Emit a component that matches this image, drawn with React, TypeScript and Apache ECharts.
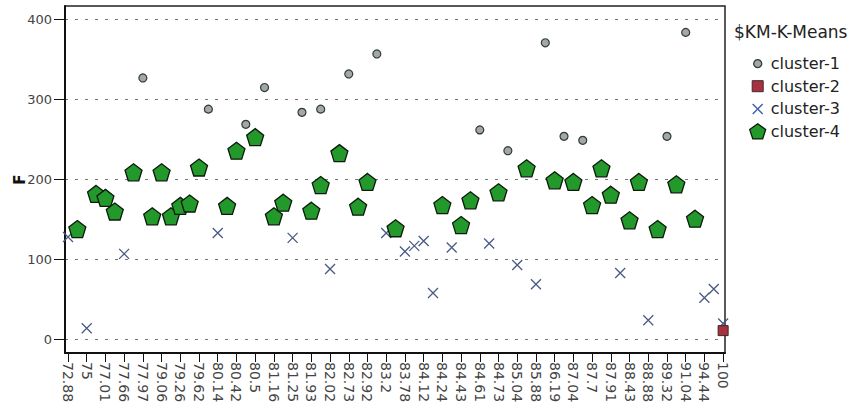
import React, { useEffect, useRef } from 'react';
import * as echarts from 'echarts';

// Tick labels of the categorical x axis (one label every other category slot)
const xLabels = ['72.88', '75', '77.01', '77.66', '77.97', '79.06', '79.26', '79.62', '80.14', '80.42', '80.5', '81.16', '81.25', '81.93', '82.02', '82.73', '82.92', '83.2', '83.78', '84.12', '84.24', '84.43', '84.61', '84.73', '85.04', '85.88', '86.19', '87.04', '87.7', '87.91', '88.43', '88.88', '89.32', '91.04', '94.44', '100'];

// Positions are in label-slot units (0 = first label, halves are unlabeled categories)
const cluster1X = [4, 7.5, 9.5, 10.5, 12.5, 13.5, 15, 16.5, 22, 23.5, 25.5, 26.5, 27.5, 32, 33];
const cluster1F = [327, 288, 269, 315, 284, 288, 332, 357, 262, 236, 371, 254, 249, 254, 384];

const cluster2X = [35];
const cluster2F = [11];

const cluster3X = [0, 1, 3, 8, 12, 14, 17, 18, 18.5, 19, 19.5, 20.5, 22.5, 24, 25, 29.5, 31, 34, 34.5, 35];
const cluster3F = [128, 14, 107, 133, 127, 88, 133, 110, 117, 123, 58, 115, 120, 93, 69, 83, 24, 52, 63, 20];

const cluster4X = [0.5, 1.5, 2, 2.5, 3.5, 4.5, 5, 5.5, 6, 6.5, 7, 8.5, 9, 10, 11, 11.5, 13, 13.5, 14.5, 15.5, 16, 17.5, 20, 21, 21.5, 23, 24.5, 26, 27, 28, 28.5, 29, 30, 30.5, 31.5, 32.5, 33.5];
const cluster4F = [138, 182, 177, 160, 209, 154, 209, 154, 167, 170, 215, 167, 236, 253, 154, 171, 161, 193, 233, 166, 197, 139, 168, 143, 174, 184, 214, 199, 197, 168, 214, 181, 149, 197, 138, 194, 151];

const yTicks = [0, 100, 200, 300, 400];

const FONT = 'DejaVu Sans';

const pentagon = 'path://M0,-1L0.951,-0.309L0.588,0.809L-0.588,0.809L-0.951,-0.309Z';
const cross = 'path://M0,0L10,10M10,0L0,10';
const legendCircle = 'path://M0,0M16,16M8,4A4,4,0,1,0,8.01,4Z';
const legendSquare = 'path://M0,0M16,16M2.5,2.5L13.5,2.5L13.5,13.5L2.5,13.5Z';
const legendCross = 'path://M0,0M16,16M3,3L13,13M13,3L3,13';

const zip = (xs: number[], ys: number[]) => xs.map((x, i) => [x, ys[i]]);

const c1Style = { color: '#a3a8a3', borderColor: '#2f3a3a', borderWidth: 1.2, opacity: 1 };
const c2Style = { color: '#a8303f', borderColor: '#3a2a2a', borderWidth: 1, opacity: 1 };
const c3Style = { color: 'rgba(0,0,0,0)', borderColor: '#4a5a84', borderWidth: 1.3, opacity: 1 };
const c4Style = { color: '#22992a', borderColor: '#0c1a0c', borderWidth: 1.3, opacity: 1 };

export default function App() {
  const ref = useRef<HTMLDivElement>(null);
  useEffect(() => {
    document.body.style.margin = '0';
    const chart = echarts.init(ref.current!, null, { renderer: 'svg' });
    const option: any = {
      animation: false,
      backgroundColor: '#ffffff',
      textStyle: { fontFamily: FONT },
      title: {
        text: '$KM-K-Means',
        left: 729,
        top: 18,
        textStyle: { fontSize: 17, fontWeight: 'normal', color: '#222', fontFamily: FONT },
      },
      legend: {
        orient: 'vertical',
        left: 744,
        top: 50,
        itemWidth: 16,
        itemHeight: 16,
        itemGap: 5.5,
        selectedMode: false,
        textStyle: { fontSize: 16, color: '#222', fontFamily: FONT },
        data: [
          { name: 'cluster-1', icon: legendCircle, itemStyle: c1Style },
          { name: 'cluster-2', icon: legendSquare, itemStyle: c2Style },
          { name: 'cluster-3', icon: legendCross, itemStyle: { ...c3Style, borderColor: '#3d5fb0', borderWidth: 1.4 } },
          { name: 'cluster-4', icon: pentagon, itemStyle: c4Style },
        ],
      },
      grid: {
        left: 65,
        right: 140,
        top: 6,
        bottom: 59,
        show: true,
        borderColor: '#222',
        borderWidth: 1.5,
        containLabel: false,
        outerBoundsMode: 'none',
      },
      xAxis: {
        type: 'value',
        min: -0.16,
        max: 35.1,
        minInterval: 1,
        maxInterval: 1,
        axisLine: { show: true, onZero: false, lineStyle: { color: '#111', width: 2 } },
        axisTick: {
          show: true,
          length: 9,
          lineStyle: { color: '#111', width: 1 },
          customValues: xLabels.map((_, i) => i),
        },
        axisLabel: {
          rotate: -90,
          margin: 9,
          fontSize: 14,
          color: '#444',
          fontFamily: FONT,
          customValues: xLabels.map((_, i) => i),
          formatter: (v: number) => (Number.isInteger(v) && xLabels[v] !== undefined ? xLabels[v] : ''),
        },
        splitLine: { show: false },
      },
      yAxis: {
        type: 'value',
        min: -17,
        max: 417,
        minInterval: 100,
        maxInterval: 100,
        name: 'F',
        nameLocation: 'middle',
        nameGap: 38,
        nameMoveOverlap: false,
        nameRotate: 90,
        nameTextStyle: { fontWeight: 'bold', fontSize: 15, color: '#111', fontFamily: FONT },
        axisLine: { show: true, onZero: false, lineStyle: { color: '#111', width: 2 } },
        axisTick: { show: true, length: 11, lineStyle: { color: '#111', width: 1 }, customValues: yTicks },
        axisLabel: {
          margin: 13,
          fontSize: 13,
          color: '#444',
          fontFamily: FONT,
          customValues: yTicks,
          formatter: (v: number) => (yTicks.includes(v) ? String(v) : ''),
        },
        splitLine: { show: true, lineStyle: { type: [3, 7], color: '#777', width: 1 } },
      },
      series: [
        {
          name: 'cluster-1',
          type: 'scatter',
          symbol: 'circle',
          symbolSize: 8,
          itemStyle: c1Style,
          data: zip(cluster1X, cluster1F),
          z: 3,
        },
        {
          name: 'cluster-2',
          type: 'scatter',
          symbol: 'rect',
          symbolSize: 10,
          itemStyle: c2Style,
          data: zip(cluster2X, cluster2F),
          z: 3,
        },
        {
          name: 'cluster-3',
          type: 'scatter',
          symbol: cross,
          symbolSize: 10,
          itemStyle: c3Style,
          data: zip(cluster3X, cluster3F),
          z: 2,
        },
        {
          name: 'cluster-4',
          type: 'scatter',
          symbol: pentagon,
          symbolSize: 17,
          itemStyle: c4Style,
          data: zip(cluster4X, cluster4F),
          z: 4,
        },
      ],
    };
    chart.setOption(option);
    return () => chart.dispose();
  }, []);
  return <div ref={ref} style={{ width: 865, height: 412 }} />;
}
